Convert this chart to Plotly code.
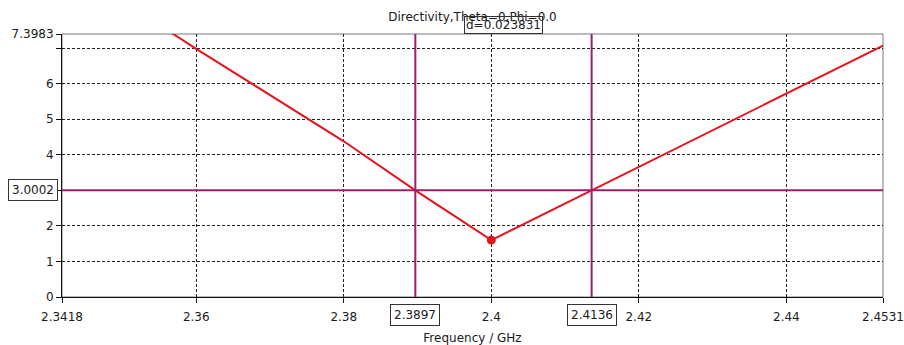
import plotly.graph_objects as go

# Directivity vs frequency
freq_ghz = [2.3418, 2.36, 2.38, 2.3897, 2.4, 2.4136, 2.42, 2.44, 2.4531]
directivity = [9.42, 6.98, 4.38, 3.0002, 1.60, 3.0002, 3.66, 5.72, 7.07]

# Minimum point
min_freq = [2.4]
min_dir = [1.60]

# Markers
marker_x = [2.3897, 2.4136]
marker_y = 3.0002
delta_label = "d=0.023831"

x_range = [2.3418, 2.4531]
y_range = [0, 7.3983]
x_tickvals = [2.3418, 2.36, 2.38, 2.4, 2.42, 2.44, 2.4531]
x_ticktext = ["2.3418", "2.36", "2.38", "2.4", "2.42", "2.44", "2.4531"]
y_tickvals = [0, 1, 2, 3, 4, 5, 6, 7, 7.3983]
y_ticktext = ["0", "1", "2", "", "4", "5", "6", "", "7.3983"]

RED = "#e3141c"
PURPLE = "#9c1f6e"
TXT = "#1a1a1a"
FONT = "DejaVu Sans"
FS = 12

fig = go.Figure()
fig.add_trace(go.Scatter(x=freq_ghz, y=directivity, mode="lines",
                         line=dict(color=RED, width=2), hoverinfo="skip"))
fig.add_trace(go.Scatter(x=min_freq, y=min_dir, mode="markers",
                         marker=dict(color=RED, size=9), hoverinfo="skip"))

shapes = [
    # outer frame (top/right in gray)
    dict(type="rect", xref="paper", yref="paper", x0=0, x1=1, y0=0, y1=1,
         line=dict(color="#7a7a7a", width=1), layer="below"),
    dict(type="line", xref="paper", yref="y", x0=0, x1=1, y0=marker_y, y1=marker_y,
         line=dict(color=PURPLE, width=2)),
]
for mx in marker_x:
    shapes.append(dict(type="line", xref="x", yref="paper", x0=mx, x1=mx, y0=0, y1=1,
                       line=dict(color=PURPLE, width=2)))

box = dict(bordercolor="#333333", borderwidth=1, bgcolor="white",
           font=dict(family=FONT, size=FS, color=TXT), showarrow=False, borderpad=3)
annotations = [
    dict(text="%.4f" % marker_y, xref="paper", yref="y", x=0, y=marker_y,
         xanchor="right", yanchor="middle", xshift=-4, **box),
    dict(text="%.4f" % marker_x[0], xref="x", yref="paper", x=marker_x[0], y=0,
         xanchor="center", yanchor="top", yshift=-7, **box),
    dict(text="%.4f" % marker_x[1], xref="x", yref="paper", x=marker_x[1], y=0,
         xanchor="center", yanchor="top", yshift=-7, **box),
    dict(text=delta_label, xref="x", yref="paper", x=(marker_x[0] + marker_x[1]) / 2, y=1,
         xanchor="center", yanchor="bottom", showarrow=False,
         bordercolor="#333333", borderwidth=1, bgcolor="rgba(0,0,0,0)", borderpad=1,
         font=dict(family=FONT, size=FS, color=TXT)),
]

fig.update_layout(
    width=904, height=345,
    margin=dict(l=62, r=21, t=34, b=48, autoexpand=False),
    paper_bgcolor="white", plot_bgcolor="white",
    showlegend=False,
    font=dict(family=FONT, size=FS, color=TXT),
    title=dict(text="Directivity,Theta=0,Phi=0.0", x=0.5, xref="paper",
               xanchor="center", y=1 - 17 / 345, yanchor="middle",
               font=dict(family=FONT, size=FS, color=TXT)),
    shapes=shapes, annotations=annotations,
)
fig.update_xaxes(range=x_range, tickvals=x_tickvals, ticktext=x_ticktext,
                 showgrid=True, gridcolor="#222222", griddash="3px,2px", gridwidth=1,
                 showline=True, linecolor="#111111", linewidth=1,
                 ticks="outside", ticklen=5, tickcolor="#111111",
                 ticklabelstandoff=4,
                 zeroline=False, fixedrange=True, automargin=False,
                 title=dict(text="Frequency / GHz", standoff=10,
                            font=dict(family=FONT, size=FS, color=TXT)))
fig.update_yaxes(range=y_range, tickvals=y_tickvals, ticktext=y_ticktext,
                 showgrid=True, gridcolor="#222222", griddash="3px,2px", gridwidth=1,
                 showline=True, linecolor="#111111", linewidth=1,
                 ticks="outside", ticklen=5, tickcolor="#111111",
                 zeroline=False, fixedrange=True, automargin=False)

fig.write_html("out.html")
